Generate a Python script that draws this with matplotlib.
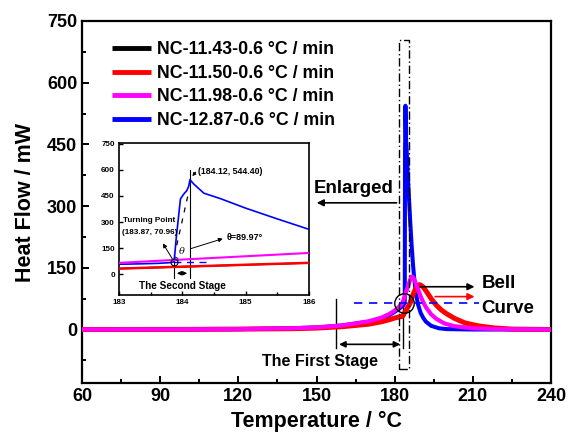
import matplotlib
matplotlib.use("Agg")
import matplotlib.pyplot as plt
import matplotlib.patches as patches
from matplotlib.ticker import MultipleLocator

plt.rcParams['font.family'] = ['Liberation Sans', 'DejaVu Sans']
plt.rcParams['font.weight'] = 'bold'

# ---- data ----
labels = ["NC-11.43-0.6 \u00b0C / min", "NC-11.50-0.6 \u00b0C / min",
          "NC-11.98-0.6 \u00b0C / min", "NC-12.87-0.6 \u00b0C / min"]
colors = ["black", "#ff0000", "#ff00ff", "#0000ff"]

temp_black = [60, 100, 120, 140, 150, 160, 170, 175, 178, 180, 182, 183, 184, 185, 186,
              187, 188, 189, 189.5, 190, 191, 192, 194, 196, 198, 200, 203, 207, 212, 218, 225, 240]
flow_black = [0, 0.3, 1, 2, 3.5, 7, 13, 19, 24, 28, 31, 32, 42.5, 53.5, 64.5,
              83, 97.5, 105.5, 107.5, 106.5, 101.5, 92.5, 74, 58, 46, 37, 26, 15.5, 8.5, 4, 1, 0]

temp_red = [60, 100, 120, 140, 150, 160, 170, 175, 178, 180, 182, 183, 184, 185, 186,
            187, 188, 189, 189.5, 190, 191, 192, 194, 196, 198, 200, 203, 207, 212, 218, 225, 240]
flow_red = [0, 0.3, 1, 2, 3.5, 7, 13, 19, 24, 28, 31, 32, 43, 54, 65,
            84, 99, 107, 109, 108, 103, 94, 75, 59, 47, 38, 27, 16, 9, 4, 1, 0]

temp_mag = [60, 100, 120, 140, 150, 160, 170, 175, 178, 180, 182, 183, 184, 185, 186,
            186.6, 187.2, 188, 189, 190, 191, 192, 194, 196, 199, 203, 210, 220, 240]
flow_mag = [0, 0.5, 1, 3, 5, 10, 20, 29, 38, 46, 57, 65, 84, 103, 122,
            129, 126, 114, 97, 80, 66, 54, 37, 26, 15, 8, 3, 1, 0]

temp_blue = [60, 100, 120, 140, 150, 160, 170, 175, 178, 180, 182, 183, 183.3, 183.6, 183.8,
             183.87, 183.9, 183.97, 184.02, 184.07, 184.1, 184.12, 184.18, 184.34, 184.6, 185,
             185.5, 186, 186.5, 187, 187.5, 188, 188.5, 189, 190, 191, 192, 194, 197, 200, 210, 240]
flow_blue = [0, 0.5, 1, 3, 5, 10, 19, 27, 35, 43, 52, 57, 59, 62, 66,
             71, 195, 433, 460, 481, 505, 544, 519, 466, 435, 380,
             318, 258, 205, 160, 124, 96, 76, 60, 40, 28, 19, 9, 3, 1, 0, 0]

series = [(temp_black, flow_black), (temp_red, flow_red), (temp_mag, flow_mag), (temp_blue, flow_blue)]
main_lw = [1.8, 3.6, 3.0, 2.9]
inset_lw = [1.2, 1.8, 1.5, 1.2]
zorders = [2, 4, 5, 3]

turn_pt = (183.87, 70.96)
peak_pt = (184.12, 544.40)

fig = plt.figure(figsize=(5.70, 4.41), dpi=100)
ax = fig.add_axes([0.1439, 0.1315, 0.8228, 0.8209])

for (t, f), c, lab, lw, z in zip(series, colors, labels, main_lw, zorders):
    ax.plot(t, f, color=c, lw=lw, label=lab, zorder=z, solid_capstyle='butt')

ax.set_xlim(60, 240)
ax.set_ylim(-130, 750)
ax.xaxis.set_major_locator(MultipleLocator(30))
ax.xaxis.set_minor_locator(MultipleLocator(15))
ax.yaxis.set_major_locator(MultipleLocator(150))
ax.yaxis.set_minor_locator(MultipleLocator(75))
ax.tick_params(which='both', direction='in', width=1.4, labelsize=13)
ax.tick_params(which='major', length=5)
ax.tick_params(which='minor', length=3)
for s in ax.spines.values():
    s.set_linewidth(1.6)
ax.set_xlabel("Temperature / \u00b0C", fontsize=15.5, fontweight='bold', labelpad=4)
ax.set_ylabel("Heat Flow / mW", fontsize=15.5, fontweight='bold', labelpad=8)

leg = ax.legend(loc='upper left', bbox_to_anchor=(0.064, 0.944), frameon=False,
                prop={'weight': 'bold', 'size': 12.8}, handlelength=2.2,
                handletextpad=0.35, labelspacing=0.37, borderaxespad=0, borderpad=0)
for h in leg.get_lines():
    h.set_linewidth(3.5)

# main annotations
ax.add_patch(patches.Rectangle((181.8, -95), 3.8, 800, fill=False, lw=1.0,
                               ls=(0, (6, 2, 1, 2)), ec='black', zorder=6))
ax.annotate("", xy=(149, 308), xytext=(181.8, 308),
            arrowprops=dict(arrowstyle='-|>', color='black', lw=1.2, mutation_scale=10))
ax.text(149, 333, "Enlarged", fontsize=13.5, fontweight='bold', ha='left', va='baseline')

ax.plot([183.4], [65], 'o', ms=14, mfc='none', mec='black', mew=1.0, zorder=7)
ax.plot([164.5, 212.4], [65, 65], color='#0000ff', lw=1.2, ls=(0, (5, 4)), zorder=6)

ax.annotate("", xy=(211.7, 104), xytext=(188.7, 104),
            arrowprops=dict(arrowstyle='-|>', color='black', lw=1.2, mutation_scale=10), zorder=8)
ax.annotate("", xy=(211.7, 80), xytext=(194.5, 80),
            arrowprops=dict(arrowstyle='-|>', color='#ff0000', lw=1.2, mutation_scale=10), zorder=8)
ax.text(213.3, 100, "Bell", fontsize=13.5, fontweight='bold', ha='left', va='baseline')
ax.text(213.3, 39, "Curve", fontsize=13.5, fontweight='bold', ha='left', va='baseline')

ax.plot([157.6, 157.6], [73, -46], color='black', lw=1.0)
ax.plot([183.2, 183.2], [60, -46], color='black', lw=1.0)
ax.annotate("", xy=(157.6, -36), xytext=(183.2, -36),
            arrowprops=dict(arrowstyle='<|-|>', color='black', lw=1.2, mutation_scale=9))
ax.text(151.5, -78, "The First Stage", fontsize=11.5, fontweight='bold', ha='center', va='center')

# ---- inset ----
axi = fig.add_axes([0.2088, 0.3311, 0.3333, 0.3446])
for (t, f), c, lw, z in zip(series, colors, inset_lw, zorders):
    axi.plot(t, f, color=c, lw=lw, zorder=z)
axi.set_xlim(183, 186)
axi.set_ylim(-120, 755)
axi.xaxis.set_major_locator(MultipleLocator(1))
axi.xaxis.set_minor_locator(MultipleLocator(0.5))
axi.yaxis.set_major_locator(MultipleLocator(150))
axi.tick_params(which='both', direction='in', width=1.0, labelsize=5.8, pad=3)
axi.tick_params(which='major', length=3)
axi.tick_params(which='minor', length=2)
for s in axi.spines.values():
    s.set_linewidth(1.2)

axi.plot([peak_pt[0], peak_pt[0]], [600, -20], color='black', lw=0.8)
axi.plot([turn_pt[0], turn_pt[0]], [120, -20], color='black', lw=0.8)
axi.annotate("", xy=(turn_pt[0], 5), xytext=(peak_pt[0], 5),
             arrowprops=dict(arrowstyle='<|-|>', color='black', lw=0.8, mutation_scale=6))
axi.text(184.0, -66, "The Second Stage", fontsize=7.2, fontweight='bold', ha='center', va='center')

axi.plot([turn_pt[0], 184.42], [71, 71], color='#0000ff', lw=1.0, ls=(0, (5, 4)), zorder=6)
axi.plot([turn_pt[0]], [turn_pt[1]], 'o', ms=5, mfc='none', mec='black', mew=0.8, zorder=7)
axi.plot([183.911, 184.087], [166, 452], color='black', lw=0.9, ls=(0, (4, 5)), zorder=6)
axi.add_patch(patches.Arc((183.88, 75), 0.12, 45, theta1=0, theta2=90, color='#0000ff', lw=0.8))
axi.text(183.99, 128, "\u03b8", fontsize=7, style='italic', fontweight='normal',
         ha='center', va='center', family='DejaVu Serif')

axi.annotate("", xy=(183.67, 191), xytext=(turn_pt[0], 71),
             arrowprops=dict(arrowstyle='-|>', color='black', lw=0.7, mutation_scale=6))
axi.text(183.48, 309, "Turning Point", fontsize=5.9, fontweight='bold', ha='center', va='center')
axi.text(183.48, 238, "(183.87, 70.96)", fontsize=5.9, fontweight='bold', ha='center', va='center')

axi.annotate("", xy=(184.68, 209), xytext=(184.09, 142),
             arrowprops=dict(arrowstyle='-|>', color='black', lw=0.7, mutation_scale=6))
axi.text(184.70, 210, "\u03b8=89.97\u00b0", fontsize=6.5, fontweight='bold', ha='left', va='center')

axi.annotate("", xy=(184.13, 552), xytext=(184.24, 600),
             arrowprops=dict(arrowstyle='-|>', color='black', lw=0.7, mutation_scale=5))
axi.text(184.25, 590, "(184.12, 544.40)", fontsize=6.3, fontweight='bold', ha='left', va='center')

fig.savefig("out.png", dpi=100)
